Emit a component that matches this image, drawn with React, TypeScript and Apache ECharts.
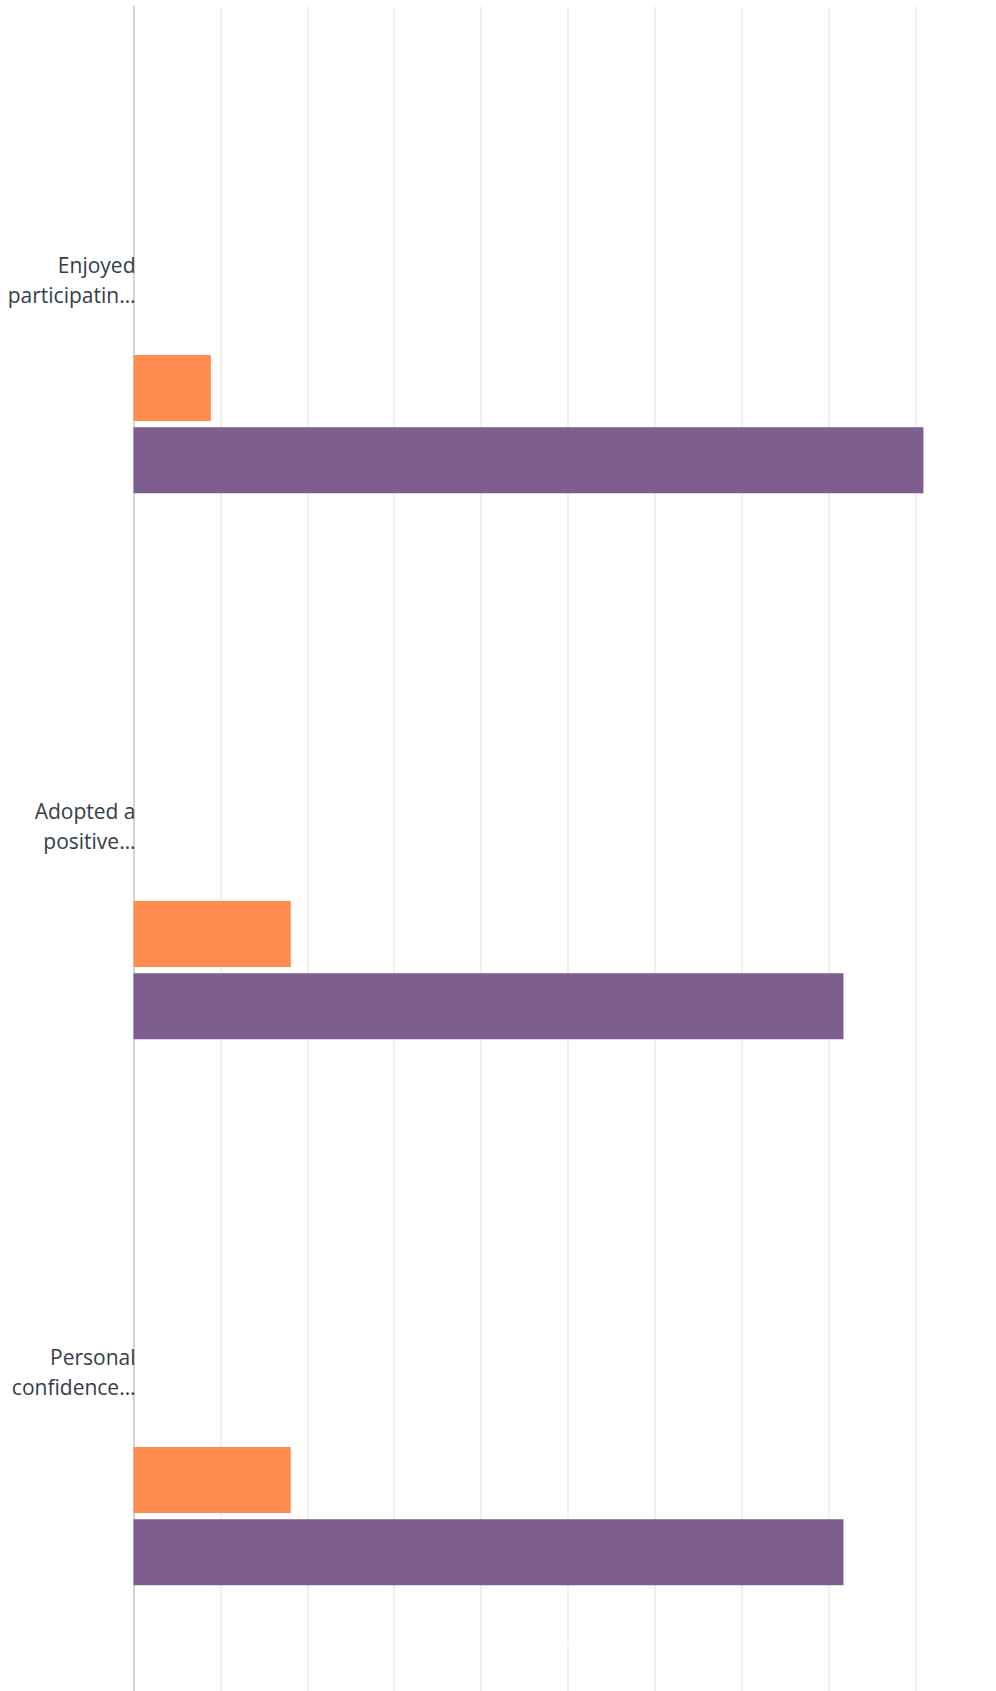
import React, { useEffect, useRef } from "react";
import * as echarts from "echarts";

const categories = [
  "Enjoyed\nparticipatin…",
  "Adopted a\npositive…",
  "Personal\nconfidence…",
];

const seriesNames = [
  "Option 1",
  "Option 2",
  "Option 3",
  "Option 4",
  "Option 5",
  "Option 6",
];

const option1 = [0, 0, 0];
const option2 = [0, 0, 0];
const option3 = [0, 0, 0];
const option4 = [0, 0, 0];
const option5 = [8.9, 18.1, 18.1];
const option6 = [90.9, 81.7, 81.7];

const seriesValues = [option1, option2, option3, option4, option5, option6];
const seriesColors = ["#d0d0d0", "#d0d0d0", "#d0d0d0", "#d0d0d0", "#ff8b4f", "#7d5e8e"];

const xMin = 0;
const xMax = 100;
const xInterval = 10;

export default function App() {
  const ref = useRef<HTMLDivElement>(null);

  useEffect(() => {
    if (!ref.current) return;
    const chart = echarts.init(ref.current, undefined, { renderer: "svg" });
    const splitLine = { show: true, lineStyle: { color: "#ebebeb", width: 1.5 } };
    const axisLine = { show: true, lineStyle: { color: "#d4d4d4", width: 2 } };
    chart.setOption({
      animation: false,
      backgroundColor: "#ffffff",
      grid: [
        { left: 133.5, top: 6.5, width: 869, height: 1638, containLabel: false },
        { left: 133.5, top: 1644.5, width: 869, height: 46.5, containLabel: false },
      ],
      xAxis: [
        {
          type: "value",
          gridIndex: 0,
          min: xMin,
          max: xMax,
          interval: xInterval,
          axisLine: { show: false },
          axisTick: { show: false },
          axisLabel: { show: false },
          splitLine,
        },
        {
          type: "value",
          gridIndex: 1,
          min: xMin,
          max: xMax,
          interval: xInterval,
          axisLine: { show: false },
          axisTick: { show: false },
          axisLabel: { show: false },
          splitLine,
        },
      ],
      yAxis: [
        {
          type: "category",
          gridIndex: 0,
          data: categories,
          inverse: true,
          axisTick: { show: false },
          axisLine,
          axisLabel: {
            margin: -2,
            color: "#333e48",
            fontFamily: "Open Sans",
            fontSize: 21,
            lineHeight: 30,
            align: "right",
          },
        },
        {
          type: "category",
          gridIndex: 1,
          data: [""],
          inverse: true,
          axisTick: { show: false },
          axisLine,
          axisLabel: { show: false },
          splitLine: { show: false },
        },
      ],
      series: seriesValues.map((vals, i) => ({
        name: seriesNames[i],
        type: "bar",
        xAxisIndex: 0,
        yAxisIndex: 0,
        data: vals,
        barWidth: 66,
        barGap: "9.6%",
        itemStyle: { color: seriesColors[i] },
      })),
    });
    return () => chart.dispose();
  }, []);

  return (
    <div
      style={{
        position: "absolute",
        left: 0,
        top: 0,
        width: 996,
        height: 1691,
        overflow: "hidden",
      }}
    >
      <div ref={ref} style={{ width: 1010, height: 1691 }} />
    </div>
  );
}
